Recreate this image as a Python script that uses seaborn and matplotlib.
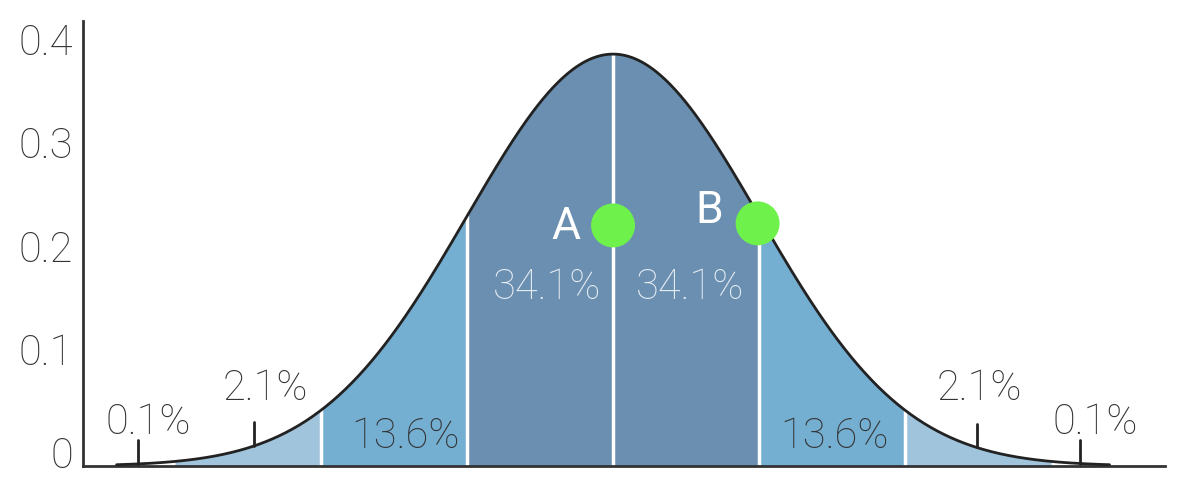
import numpy as np
import pandas as pd
import matplotlib.pyplot as plt
import matplotlib.transforms as mtransforms
import seaborn as sns

# ---- data ----
sigma_edges = [-3, -2, -1, 0, 1, 2, 3]
band_colors = ['#a0c4dc', '#74aed0', '#6a8fb0', '#6a8fb0', '#74aed0', '#a0c4dc']
pct_labels = ['0.1%', '2.1%', '13.6%', '34.1%', '34.1%', '13.6%', '2.1%', '0.1%']
pct_x = [-3.18, -2.38, -1.42, -0.45, 0.53, 1.52, 2.51, 3.30]
pct_y = [0.042, 0.0755, 0.029, 0.173, 0.173, 0.029, 0.0755, 0.042]
pct_colors = ['#333333', '#333333', '#333333', '#e6edf4', '#e6edf4', '#333333', '#333333', '#333333']
tail_ticks = [-3.25, -2.46, 2.49, 3.2]
point_names = ['A', 'B']
point_x = [0.0, 0.99]
point_y = [0.233, 0.235]
yticks = [0, 0.1, 0.2, 0.3, 0.4]
ytick_labels = ['0', '0.1', '0.2', '0.3', '0.4']

# standard normal density
x = np.linspace(-3.4, 3.4, 600)
curve = pd.DataFrame({'x': x, 'pdf': np.exp(-x**2 / 2) / np.sqrt(2 * np.pi)})

def pdf(v):
    return np.exp(-np.asarray(v)**2 / 2) / np.sqrt(2 * np.pi)

sns.set_style('white')
plt.rcParams['font.family'] = ['Roboto', 'DejaVu Sans']

fig = plt.figure(figsize=(11.96, 4.82), dpi=100)
ax = fig.add_axes([83/1196, 16/482, (1165-83)/1196, (466-21)/482])

# shaded bands
for lo, hi, c in zip(sigma_edges[:-1], sigma_edges[1:], band_colors):
    xs = np.linspace(lo, hi, 100)
    ax.fill_between(xs, 0, pdf(xs), color=c, lw=0, zorder=1)

# white separators
for e in sigma_edges[1:-1]:
    ax.plot([e, e], [0, pdf(e)], color='white', lw=2.5, zorder=2)

sns.lineplot(data=curve, x='x', y='pdf', color='#222222', lw=2, ax=ax, zorder=3)

# small ticks standing on the curve in the tails
for t in tail_ticks:
    base = pdf(t)
    ax.plot([t, t], [base, base + 0.023], color='#222222', lw=2, zorder=3)

for lab, px, py, c in zip(pct_labels, pct_x, pct_y, pct_colors):
    ax.text(px, py, lab, color=c, fontsize=30, fontweight='light',
            ha='center', va='center', zorder=5)

pts = pd.DataFrame({'x': point_x, 'y': point_y})
sns.scatterplot(data=pts, x='x', y='y', s=1000, color='#6ef24b',
                edgecolor='none', ax=ax, zorder=6, legend=False)
ax.text(point_x[0] - 0.32, point_y[0] - 0.002, point_names[0], color='white',
        fontsize=32, ha='center', va='center', zorder=7)
ax.text(point_x[1] - 0.33, point_y[1] + 0.012, point_names[1], color='white',
        fontsize=32, ha='center', va='center', zorder=7)

ax.set_xlim(-3.63, 3.78)
ax.set_ylim(0, 0.431)
ax.set_xticks([])
ax.set_yticks(yticks)
ax.set_yticklabels(ytick_labels, fontsize=30, fontweight='light', color='#333333')
ax.tick_params(axis='y', length=0, pad=7)
offset = mtransforms.ScaledTranslation(0, 14/100, fig.dpi_scale_trans)
for lbl in ax.get_yticklabels():
    lbl.set_transform(lbl.get_transform() + offset)
ax.set_xlabel('')
ax.set_ylabel('')
sns.despine(ax=ax)
for s in ['left', 'bottom']:
    ax.spines[s].set_color('#333333')
    ax.spines[s].set_linewidth(2)

fig.savefig('out.png', dpi=100)
